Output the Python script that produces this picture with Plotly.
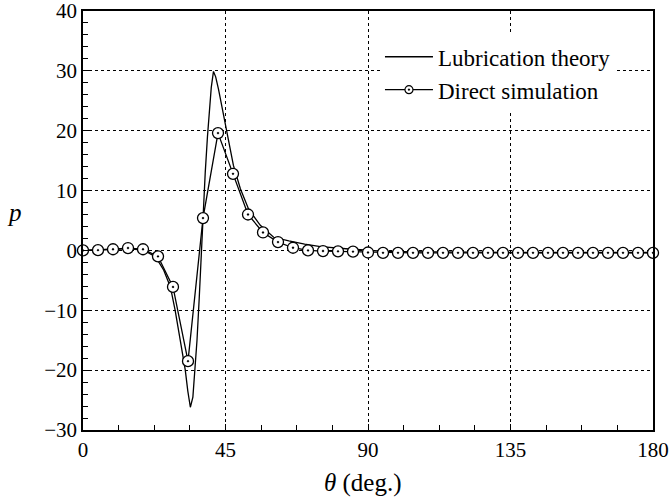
import plotly.graph_objects as go

# Lubrication theory curve (theta in deg, pressure p)
theta_lub = [0, 5, 10, 14, 18, 20, 22, 24, 25.5, 27.6, 29.1, 30.7, 32.3, 33.1, 33.9,
             34.7, 35.4, 36.0, 36.7, 37.4, 37.9, 38.6, 39.3, 39.9, 40.5, 41.2, 41.9,
             42.8, 44.4, 46.0, 47.5, 49.7, 52.3, 56.0, 60.2, 65, 70, 75, 80, 85, 90,
             95, 100, 120, 140, 160, 180]
p_lub = [0.0, 0.05, 0.2, 0.3, 0.1, -0.2, -0.8, -2.0, -3.3, -6.1, -10.0, -15.0, -20.0, -23.5, -26.2,
         -24.5, -20.0, -15.0, -8.0, 0.0, 5.0, 13.0, 19.0, 23.5, 27.2, 29.9, 29.0,
         26.9, 22.5, 18.0, 14.2, 10.3, 6.9, 4.2, 2.2, 1.6, 1.05, 0.65, 0.4, 0.2, 0.05,
         -0.15, -0.2, -0.3, -0.35, -0.35, -0.35]

# Direct simulation points: 39 points, equally spaced over 0..180 deg
theta_sim = [i * 180 / 38 for i in range(39)]
p_sim = [0.0, 0.05, 0.2, 0.4, 0.2, -1.0, -6.1, -18.5, 5.4, 19.6, 12.8, 6.0, 3.0, 1.4,
         0.45, 0.0, -0.1, -0.15, -0.2, -0.35, -0.4, -0.4, -0.4, -0.4, -0.4, -0.4,
         -0.4, -0.4, -0.4, -0.4, -0.4, -0.4, -0.4, -0.4, -0.4, -0.4, -0.4, -0.4, -0.4]

x_ticks = [0, 45, 90, 135, 180]
y_ticks = [-30, -20, -10, 0, 10, 20, 30, 40]

FONT = "Liberation Serif, Times New Roman, serif"

fig = go.Figure()
fig.add_trace(go.Scatter(x=theta_lub, y=p_lub, mode="lines",
                         line=dict(color="black", width=1.3),
                         name="Lubrication theory", showlegend=False))
fig.add_trace(go.Scatter(x=theta_sim, y=p_sim, mode="lines+markers",
                         line=dict(color="black", width=1.3),
                         marker=dict(symbol="circle-dot", size=11, color="white",
                                     line=dict(color="black", width=1.3)),
                         cliponaxis=False,
                         name="Direct simulation", showlegend=False))
# legend entries
fig.add_trace(go.Scatter(x=[None], y=[None], mode="lines",
                         line=dict(color="black", width=1.3),
                         name="Lubrication theory"))
fig.add_trace(go.Scatter(x=[None], y=[None], mode="lines+markers",
                         line=dict(color="black", width=1.3),
                         marker=dict(symbol="circle-dot", size=8, color="white",
                                     line=dict(color="black", width=1.2)),
                         name="Direct simulation"))

axis_common = dict(
    showline=True, linecolor="black", linewidth=1.5, mirror=True,
    showgrid=True, gridcolor="black", gridwidth=0.8, griddash="dot",
    zeroline=False, ticks="inside", ticklen=6, tickcolor="black", tickwidth=1.2,
    tickfont=dict(family=FONT, size=21, color="black"), automargin=False,
    ticklabeloverflow="allow",
)

fig.update_xaxes(range=[0, 180], tickvals=x_ticks, ticktext=[str(v) for v in x_ticks],
                 minor=dict(dtick=11.25, tick0=0, ticks="inside", ticklen=5,
                            tickcolor="black", showgrid=False),
                 **axis_common)
fig.update_yaxes(range=[-30, 40], tickvals=y_ticks, ticktext=[str(v).replace("-", "\u2212") for v in y_ticks],
                 minor=dict(dtick=2, tick0=0, ticks="inside", ticklen=5,
                            tickcolor="black", showgrid=False),
                 **axis_common)

fig.add_annotation(text="<i>θ</i> (deg.)", xref="paper", yref="paper",
                   x=0.492, y=-0.126, xanchor="center", yanchor="middle",
                   showarrow=False, font=dict(family=FONT, size=25, color="black"))
fig.add_annotation(text="<i>p</i>", xref="paper", yref="paper",
                   x=-0.120, y=0.52, xanchor="center", yanchor="middle",
                   showarrow=False, font=dict(family=FONT, size=25, color="black"))

fig.update_layout(
    width=669, height=504,
    margin=dict(l=83, r=16, t=11, b=74),
    paper_bgcolor="white", plot_bgcolor="white",
    legend=dict(x=0.521, y=0.942, xanchor="left", yanchor="top", bgcolor="white",
                borderwidth=0, font=dict(family=FONT, size=23, color="black"),
                tracegroupgap=0, itemwidth=48),
    font=dict(family=FONT, color="black"),
)

fig.write_html("out.html")
